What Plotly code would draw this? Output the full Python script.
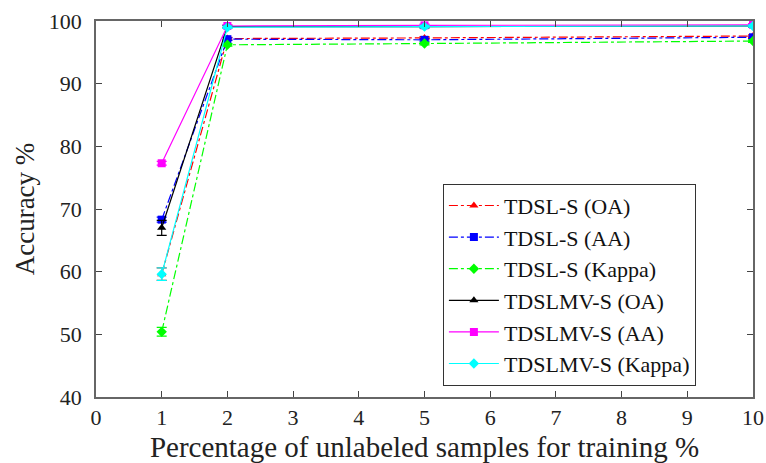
import plotly.graph_objects as go

x = [1, 2, 5, 10]

tdsl_oa = [59.6, 97.2, 97.3, 97.6]
tdsl_oa_err = [1.0, 0.2, 0.2, 0.2]
tdsl_aa = [68.3, 97.1, 97.0, 97.4]
tdsl_aa_err = [0.4, 0.2, 0.2, 0.2]
tdsl_kappa = [50.4, 96.2, 96.4, 96.8]
tdsl_kappa_err = [0.7, 0.2, 0.2, 0.2]
mv_oa = [67.0, 99.1, 99.1, 99.2]
mv_oa_err = [1.2, 0.2, 0.2, 0.2]
mv_aa = [77.3, 99.2, 99.3, 99.4]
mv_aa_err = [0.3, 0.2, 0.2, 0.2]
mv_kappa = [59.6, 99.0, 99.1, 99.2]
mv_kappa_err = [1.0, 0.2, 0.2, 0.2]

series = [
    ("TDSL-S (OA)", tdsl_oa, tdsl_oa_err, "#ff0000", "triangle-up", "dashdot"),
    ("TDSL-S (AA)", tdsl_aa, tdsl_aa_err, "#0000ff", "square", "dashdot"),
    ("TDSL-S (Kappa)", tdsl_kappa, tdsl_kappa_err, "#00ff00", "diamond", "dashdot"),
    ("TDSLMV-S (OA)", mv_oa, mv_oa_err, "#000000", "triangle-up", "solid"),
    ("TDSLMV-S (AA)", mv_aa, mv_aa_err, "#ff00ff", "square", "solid"),
    ("TDSLMV-S (Kappa)", mv_kappa, mv_kappa_err, "#00ffff", "diamond", "solid"),
]

fig = go.Figure()
for name, y, err, col, sym, dash in series:
    fig.add_trace(go.Scatter(
        x=x, y=y, name=name, mode="lines+markers",
        line=dict(color=col, width=1.2, dash=dash),
        marker=dict(symbol=sym, size=8, color=col),
        error_y=dict(type="data", array=err, color=col, thickness=1.2, width=5),
    ))

font = "Liberation Serif"
fig.update_layout(
    width=766, height=463,
    margin=dict(l=96, r=13, t=21, b=66),
    paper_bgcolor="white", plot_bgcolor="white",
    font=dict(family=font, size=22, color="#222222"),
    showlegend=True,
    legend=dict(
        x=0.528, y=0.03, xanchor="left", yanchor="bottom",
        bordercolor="#333333", borderwidth=1, bgcolor="white",
        font=dict(family=font, size=22, color="#111111"),
        tracegroupgap=0, itemwidth=50,
    ),
    xaxis=dict(
        range=[0, 10], dtick=1, tickmode="linear", automargin=False,
        showgrid=False, zeroline=False,
        showline=True, linecolor="#666666", linewidth=1.5, mirror="ticks",
        ticks="inside", ticklen=6, tickcolor="#444444",
        tickfont=dict(family=font, size=22),
        title=dict(text="Percentage of unlabeled samples for training %",
                   font=dict(family=font, size=29), standoff=8),
    ),
    yaxis=dict(
        range=[40, 100], dtick=10, tickmode="linear", automargin=False,
        showgrid=False, zeroline=False,
        showline=True, linecolor="#666666", linewidth=1.5, mirror="ticks",
        ticks="inside", ticklen=6, tickcolor="#444444",
        ticklabelstandoff=8,
        tickfont=dict(family=font, size=22),
        title=dict(text="Accuracy %", font=dict(family=font, size=27), standoff=6),
    ),
)

fig.write_html("out.html")
